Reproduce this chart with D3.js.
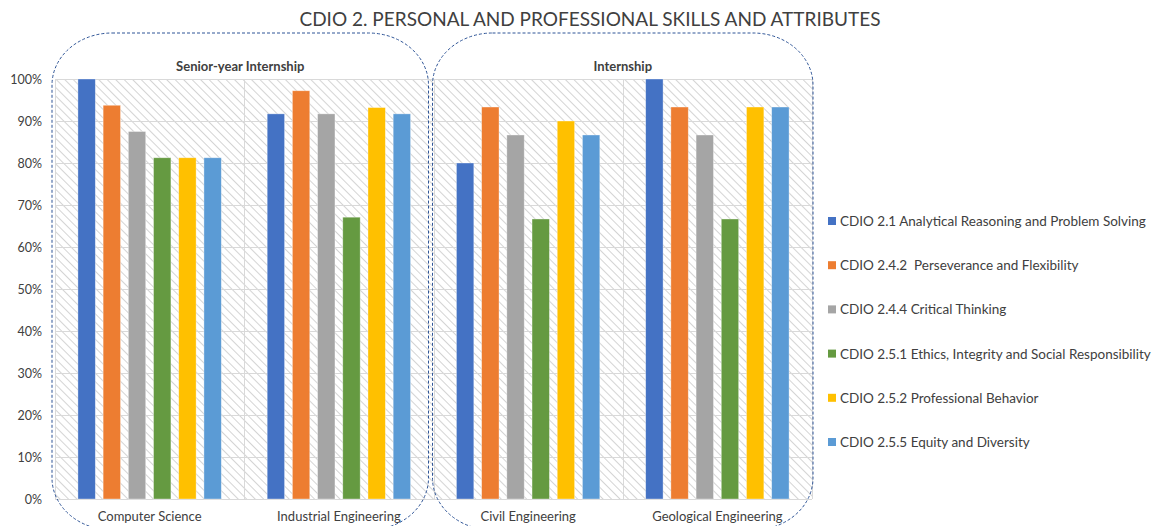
<!DOCTYPE html>
<html>
<head>
<meta charset="utf-8">
<script src="https://cdn.jsdelivr.net/npm/d3@7"></script>
<style>
  body { margin: 0; background: #fff; }
  text { font-family: Lato, "Open Sans", sans-serif; fill: #404040; }
</style>
</head>
<body>
<div id="chart"></div>
<script>
// data
var categories = ["Computer Science", "Industrial Engineering", "Civil Engineering", "Geological Engineering"];
var seriesNames = [
    "CDIO 2.1 Analytical Reasoning and Problem Solving",
    "CDIO 2.4.2  Perseverance and Flexibility",
    "CDIO 2.4.4 Critical Thinking",
    "CDIO 2.5.1 Ethics, Integrity and Social Responsibility",
    "CDIO 2.5.2 Professional Behavior",
    "CDIO 2.5.5 Equity and Diversity"
];
var analytical   = [100, 91.7, 80, 100];
var perseverance = [93.75, 97.2, 93.33, 93.33];
var critical     = [87.5, 91.7, 86.67, 86.67];
var ethics       = [81.25, 67.1, 66.67, 66.67];
var behavior     = [81.25, 93.2, 90, 93.33];
var equity       = [81.25, 91.7, 86.67, 93.33];
var groups = [
    {name: "Senior-year Internship", from: 0, to: 1},
    {name: "Internship", from: 2, to: 3}
];
var yTicks = [0, 10, 20, 30, 40, 50, 60, 70, 80, 90, 100];

var seriesValues = [analytical, perseverance, critical, ethics, behavior, equity];
var colors = ["#4472C4", "#ED7D31", "#A5A5A5", "#659A41", "#FFC000", "#5B9BD5"];

var W = 1161, H = 526;
var margin = {top: 79, right: 349, bottom: 27, left: 55};
var width = W - margin.left - margin.right,
    height = H - margin.top - margin.bottom;

var svg = d3.select("#chart").append("svg")
    .attr("width", W)
    .attr("height", H);

// hatch pattern for the plot area ("\" stripes)
var defs = svg.append("defs");
defs.append("pattern")
    .attr("id", "hatch")
    .attr("patternUnits", "userSpaceOnUse")
    .attr("width", 6)
    .attr("height", 6)
    .attr("patternTransform", "rotate(-45)")
  .append("line")
    .attr("x1", 0).attr("y1", 0)
    .attr("x2", 0).attr("y2", 6)
    .attr("stroke", "#d4d4d4")
    .attr("stroke-width", 2);

svg.append("text")
    .attr("x", 590)
    .attr("y", 26)
    .attr("text-anchor", "middle")
    .style("font-size", "19px")
    .text("CDIO 2. PERSONAL AND PROFESSIONAL SKILLS AND ATTRIBUTES");

var g = svg.append("g")
    .attr("transform", "translate(" + margin.left + "," + margin.top + ")");

var x0 = d3.scaleBand()
    .domain(categories)
    .range([0, width])
    .padding(0);

var x1 = d3.scaleBand()
    .domain(d3.range(seriesNames.length))
    .range([0, x0.bandwidth()])
    .paddingInner(0.31)
    .paddingOuter(0.91);

var y = d3.scaleLinear()
    .domain([0, 100])
    .range([height, 0]);

// plot area background
g.append("rect")
    .attr("width", width)
    .attr("height", height)
    .attr("fill", "url(#hatch)");

// horizontal grid
g.append("g")
    .selectAll("line")
    .data(yTicks)
    .join("line")
    .attr("x1", 0).attr("x2", width)
    .attr("y1", function(d) { return y(d) + 0.5; })
    .attr("y2", function(d) { return y(d) + 0.5; })
    .attr("stroke", "#d9d9d9")
    .attr("stroke-width", 1);

// vertical lines between categories
var edges = categories.map(function(c) { return x0(c); }).concat([width]);
g.append("g")
    .selectAll("line")
    .data(edges)
    .join("line")
    .attr("x1", function(d) { return Math.round(d) + 0.5; })
    .attr("x2", function(d) { return Math.round(d) + 0.5; })
    .attr("y1", 0).attr("y2", height)
    .attr("stroke", "#d9d9d9")
    .attr("stroke-width", 1);

// y axis labels
var yAxis = g.append("g")
    .call(d3.axisLeft(y).tickValues(yTicks).tickSize(0).tickPadding(13)
        .tickFormat(function(d) { return d + "%"; }));
yAxis.select(".domain").remove();
yAxis.selectAll("text").style("font-size", "12.5px").attr("fill", "#404040");

// bars
var cat = g.append("g")
    .selectAll("g")
    .data(categories)
    .join("g")
    .attr("transform", function(d) { return "translate(" + x0(d) + ",0)"; });

cat.selectAll("rect")
    .data(function(d, ci) {
        return seriesValues.map(function(vals, si) { return {s: si, v: vals[ci]}; });
    })
    .join("rect")
    .attr("x", function(d) { return x1(d.s); })
    .attr("y", function(d) { return y(d.v); })
    .attr("width", x1.bandwidth())
    .attr("height", function(d) { return height - y(d.v); })
    .attr("fill", function(d) { return colors[d.s]; })
    .attr("stroke", "#ffffff")
    .attr("stroke-opacity", 0.5)
    .attr("stroke-width", 0.7);

// x axis labels
var xAxis = g.append("g")
    .attr("transform", "translate(0," + height + ")")
    .call(d3.axisBottom(x0).tickSize(0).tickPadding(13));
xAxis.select(".domain").remove();
xAxis.selectAll("text").style("font-size", "13px").attr("fill", "#262626");

// dashed rounded boxes round each group, plus their titles
var boxPad = [[-3, -5], [-1, 1]];
groups.forEach(function(gr, i) {
    var left = x0(categories[gr.from]) + boxPad[i][0];
    var right = x0(categories[gr.to]) + x0.bandwidth() + boxPad[i][1];
    g.append("rect")
        .attr("x", left)
        .attr("y", -46)
        .attr("width", right - left)
        .attr("height", height + 77)
        .attr("rx", 60)
        .attr("ry", 52)
        .attr("fill", "none")
        .attr("stroke", "#2F5597")
        .attr("stroke-width", 1)
        .attr("stroke-dasharray", "3,2");
    g.append("text")
        .attr("x", (left + right) / 2)
        .attr("y", -8)
        .attr("text-anchor", "middle")
        .style("font-size", "13px")
        .style("font-weight", "bold")
        .attr("fill", "#000")
        .text(gr.name);
});

// legend
var legend = svg.append("g")
    .attr("transform", "translate(828,222)");
var item = legend.selectAll("g")
    .data(seriesNames)
    .join("g")
    .attr("transform", function(d, i) { return "translate(0," + (i * 44.2) + ")"; });
item.append("rect")
    .attr("x", 0).attr("y", -5)
    .attr("width", 8).attr("height", 8)
    .attr("fill", function(d, i) { return colors[i]; });
item.append("text")
    .attr("x", 12)
    .attr("y", 4)
    .style("font-size", "13.5px")
    .style("white-space", "pre")
    .attr("fill", "#262626")
    .text(function(d) { return d; });
</script>
</body>
</html>
